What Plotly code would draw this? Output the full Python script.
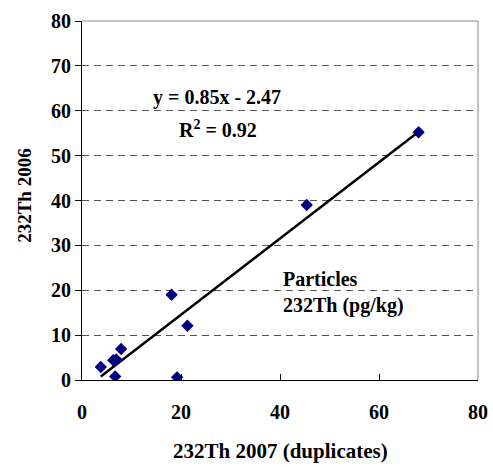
import plotly.graph_objects as go

x_2007 = [3.8, 6.3, 6.9, 7.9, 6.7, 18.1, 21.3, 19.2, 45.4, 68.0]
y_2006 = [2.9, 4.4, 4.6, 6.9, 0.8, 19.0, 12.1, 0.6, 39.0, 55.2]
slope = 0.85
intercept = -2.47
r2 = 0.92
x_ticks = [0, 20, 40, 60, 80]
y_ticks = [0, 10, 20, 30, 40, 50, 60, 70, 80]

FONT = "Liberation Serif"

# plot area in the picture: x 82..478, y 21..380
PX0, PX1, PY0, PY1 = 82, 478, 21, 380.3
W, H = 493, 467


def px2paper(px, py):
    return (px - PX0) / (PX1 - PX0), (PY1 - py) / (PY1 - PY0)


xmin, xmax = min(x_2007), max(x_2007)
fig = go.Figure()
fig.add_trace(go.Scatter(x=[xmin, xmax], y=[slope * xmin + intercept, slope * xmax + intercept],
                         mode="lines", line=dict(color="black", width=2.5), showlegend=False))
fig.add_trace(go.Scatter(x=x_2007, y=y_2006, mode="markers",
                         marker=dict(symbol="diamond", color="#000080", size=9.5), showlegend=False))

xt_x, xt_y = px2paper(280.5, 451)
yt_x, yt_y = px2paper(25, 195)

fig.update_layout(
    width=W, height=H,
    margin=dict(l=PX0, r=W - PX1, t=PY0, b=H - PY1, autoexpand=False),
    plot_bgcolor="white", paper_bgcolor="white",
    font=dict(family=FONT, color="black"),
    xaxis=dict(range=[0, 80], tickvals=x_ticks, ticktext=[f"<b>{v}</b>" for v in x_ticks],
               ticks="inside", ticklen=6, tickcolor="black", automargin=False,
               ticklabelstandoff=14,
               showgrid=False, zeroline=False, showline=True, linecolor="black", linewidth=1,
               tickfont=dict(size=20, family=FONT)),
    yaxis=dict(range=[0, 80], tickvals=y_ticks, ticktext=[f"<b>{v}</b>" for v in y_ticks],
               ticks="outside", ticklen=6, tickcolor="black", automargin=False,
               showgrid=True, gridcolor="#555", griddash="7px,5px", gridwidth=1,
               zeroline=False, showline=True, linecolor="black", linewidth=1,
               tickfont=dict(size=20, family=FONT)),
    shapes=[
        dict(type="line", xref="paper", yref="paper", x0=0, x1=1, y0=1, y1=1, line=dict(color="#888", width=1)),
        dict(type="line", xref="paper", yref="paper", x0=1, x1=1, y0=0, y1=1, line=dict(color="#888", width=1)),
    ],
    annotations=[
        dict(x=27.2, y=63.0, xref="x", yref="y", text=f"<b>y = {slope}x - {abs(intercept)}</b>", showarrow=False,
             font=dict(size=20, family=FONT)),
        dict(x=27.4, y=56.0, xref="x", yref="y", text=f"<b>R<sup>2</sup> = {r2}</b>", showarrow=False,
             font=dict(size=20, family=FONT)),
        dict(x=40.3, y=22.5, xref="x", yref="y", text="<b>Particles</b>", showarrow=False, xanchor="left",
             font=dict(size=20, family=FONT)),
        dict(x=40.3, y=16.6, xref="x", yref="y", text="<b>232Th (pg/kg)</b>", showarrow=False, xanchor="left",
             font=dict(size=20, family=FONT)),
        dict(x=xt_x, y=xt_y, xref="paper", yref="paper", text="<b>232Th 2007 (duplicates)</b>",
             showarrow=False, font=dict(size=21, family=FONT), xanchor="center", yanchor="middle"),
        dict(x=yt_x, y=yt_y, xref="paper", yref="paper", text="<b>232Th 2006</b>", textangle=-90,
             showarrow=False, font=dict(size=19, family=FONT), xanchor="center", yanchor="middle"),
    ],
)
fig.write_html("out.html", config={"displayModeBar": False},
               post_script="document.body.style.margin='0';")
